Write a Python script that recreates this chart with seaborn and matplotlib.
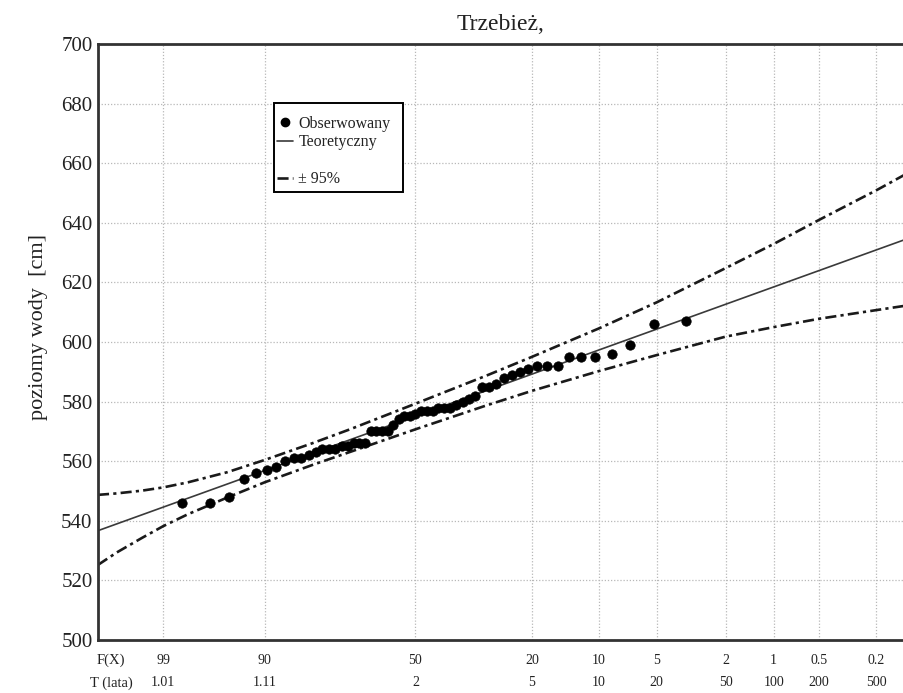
import statistics
import numpy as np
import pandas as pd
import matplotlib
matplotlib.use("Agg")
import matplotlib.pyplot as plt
import matplotlib.transforms as mtransforms
from matplotlib.lines import Line2D
from matplotlib.patches import Rectangle
import seaborn as sns

# --- data -------------------------------------------------------------------
station = "Trzebież,"

# observed annual maximum water levels [cm], sorted ascending
levels = [546, 546, 548, 554, 556, 557, 558, 560, 561, 561,
          562, 563, 564, 564, 564, 565, 565, 566, 566, 566,
          570, 570, 570, 570, 572, 574, 575, 575, 576, 577,
          577, 577, 578, 578, 578, 579, 580, 581, 582, 585,
          585, 586, 588, 589, 590, 591, 592, 592, 592, 595,
          595, 595, 596, 599, 606, 607]
record_years = 57

# fitted Pearson type III distribution
dist_mean = 576.3
dist_std = 15.9
dist_skew = 0.45

# 95% confidence band, given at exceedance probabilities [%]
band_p = [99.91, 99.8, 99.5, 99, 98, 95, 90, 80, 70, 50,
          30, 20, 10, 5, 2, 1, 0.5, 0.2, 0.126]
band_upper = [548.7, 549.2, 550.1, 551.2, 552.9, 556.3, 560.4, 566.1, 570.7, 579.3,
              588.7, 595.0, 604.5, 613.3, 624.8, 632.9, 641.0, 650.9, 656.0]
band_lower = [525.2, 529.4, 534.2, 538.2, 542.2, 547.8, 552.9, 558.8, 563.1, 570.7,
              578.7, 583.6, 590.2, 595.6, 601.8, 605.0, 607.8, 610.7, 612.1]

# probability axis
tick_p = [99, 90, 50, 20, 10, 5, 2, 1, 0.5, 0.2]
tick_p_labels = ["99", "90", "50", "20", "10", "5", "2", "1", "0.5", "0.2"]
tick_t_labels = ["1.01", "1.11", "2", "5", "10", "20", "50", "100", "200", "500"]
x_limits_p = (99.91, 0.126)

_nd = statistics.NormalDist()


def freq_factor(p_exceed):
    """Pearson III frequency factor (Wilson-Hilferty) for exceedance p in %."""
    p = np.atleast_1d(np.asarray(p_exceed, dtype=float))
    z = np.array([_nd.inv_cdf(1 - v / 100.0) for v in p])
    g = dist_skew
    return (2 / g) * ((1 + g * z / 6 - g ** 2 / 36) ** 3 - 1)


ranks = np.arange(1, len(levels) + 1)
obs_p = 100 * (1 - ranks / (record_years + 1))
obs = pd.DataFrame({"K": freq_factor(obs_p), "level": levels})

theory_k = freq_factor(list(x_limits_p))
theory = pd.DataFrame({"K": theory_k, "level": dist_mean + dist_std * theory_k})
bands = pd.DataFrame({"K": np.tile(freq_factor(band_p), 2),
                      "level": band_upper + band_lower,
                      "side": ["upper"] * len(band_p) + ["lower"] * len(band_p)})

# --- style ------------------------------------------------------------------
sns.set_theme(style="white")
plt.rcParams["font.family"] = ["Liberation Serif", "DejaVu Serif"]
plt.rcParams["text.color"] = "#222222"

dashdot = (0, (4.2, 1.6, 1.2, 1.6))

fig = plt.figure(figsize=(9.04, 6.93), dpi=100)
ax = fig.add_axes([0.1084, 0.0765, 0.8916, 0.86])

sns.lineplot(data=bands, x="K", y="level", units="side", estimator=None,
             color="#1a1a1a", linewidth=1.9, ax=ax, sort=False,
             linestyle=dashdot)
sns.lineplot(data=theory, x="K", y="level", color="#3a3a3a", linewidth=1.2,
             ax=ax, sort=False)
sns.scatterplot(data=obs, x="K", y="level", color="black", s=46,
                edgecolor="black", linewidth=0.5, ax=ax, zorder=5)

kx = freq_factor(x_limits_p)
ax.set_xlim(kx[0], kx[1])
ax.set_ylim(500, 700)
ax.set_yticks(np.arange(500, 701, 20))
ax.set_xticks(freq_factor(tick_p))
ax.set_xticklabels([])
ax.tick_params(axis="x", length=0)
ax.tick_params(axis="y", direction="in", length=7, width=2, color="#333333",
               labelsize=15, labelcolor="#222222", pad=4)
ax.grid(True, linestyle=(0, (1, 1.5)), color="#b8b8b8", linewidth=0.9)
ax.set_xlabel("")
ax.set_ylabel("poziomy wody  [cm]", fontsize=16, color="#222222")
ax.yaxis.set_label_coords(-0.062, 0.525)

for side in ["left", "bottom", "top"]:
    ax.spines[side].set_color("#333333")
    ax.spines[side].set_linewidth(2)
ax.spines["right"].set_visible(False)

ax.set_title(station, fontsize=17, pad=10, color="#222222")

# probability and return period rows below the axis
trans = mtransforms.blended_transform_factory(ax.transData, ax.transAxes)
for k, lp, lt in zip(freq_factor(tick_p), tick_p_labels, tick_t_labels):
    ax.text(k, -0.034, lp, transform=trans, ha="center", va="center", fontsize=10)
    ax.text(k, -0.072, lt, transform=trans, ha="center", va="center", fontsize=10)
ax.text(0.016, -0.034, "F(X)", transform=ax.transAxes, ha="center", va="center",
        fontsize=10.5)
ax.text(0.016, -0.072, "T (lata)", transform=ax.transAxes, ha="center",
        va="center", fontsize=10.5)

# legend
handles = [
    Line2D([], [], marker="o", color="black", linestyle="none", markersize=6),
    Line2D([], [], color="#3a3a3a", linewidth=1.2),
    Line2D([], [], color="none"),
    Line2D([], [], color="#1a1a1a", linewidth=1.9, linestyle=dashdot),
]
labels = ["Obserwowany", "Teoretyczny", " ", "± 95%"]
ax.legend(handles, labels, loc="upper left", bbox_to_anchor=(0.2118, 0.8926),
          borderaxespad=0, fontsize=11.5, handlelength=1.0,
          handletextpad=0.35, labelspacing=0.15, borderpad=0.5,
          frameon=False)
ax.add_patch(Rectangle((0.2184, 0.7517), 0.16, 0.1493, transform=ax.transAxes,
                       facecolor="white", edgecolor="black", linewidth=1.4,
                       zorder=4))

fig.savefig("out.png", dpi=100)
